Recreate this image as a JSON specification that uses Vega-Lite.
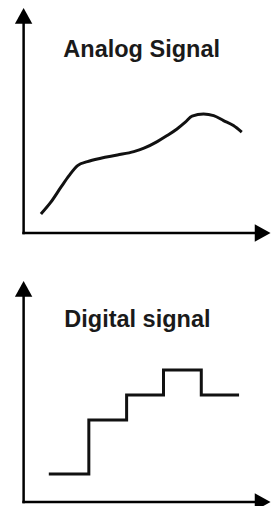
{
  "$schema": "https://vega.github.io/schema/vega-lite/v6.json",
  "background": "#ffffff",
  "padding": 0,
  "spacing": 0,
  "config": {"view": {"stroke": null}},
  "datasets": {
    "analog": [
      {"t": 0.77, "v": 0.95}, {"t": 1.21, "v": 1.54}, {"t": 1.66, "v": 2.29}, {"t": 2.02, "v": 2.87},
      {"t": 2.40, "v": 3.37}, {"t": 2.84, "v": 3.57}, {"t": 3.43, "v": 3.74}, {"t": 4.17, "v": 3.90},
      {"t": 4.90, "v": 4.07}, {"t": 5.35, "v": 4.24}, {"t": 5.94, "v": 4.57}, {"t": 6.38, "v": 4.87},
      {"t": 6.82, "v": 5.20}, {"t": 7.19, "v": 5.54}, {"t": 7.49, "v": 5.84}, {"t": 8.00, "v": 5.95},
      {"t": 8.45, "v": 5.87}, {"t": 8.89, "v": 5.62}, {"t": 9.33, "v": 5.37}, {"t": 9.70, "v": 5.04}
    ],
    "digital": [
      {"t": 1.12, "v": 1.4}, {"t": 2.9, "v": 4.1}, {"t": 4.58, "v": 5.35}, {"t": 6.22, "v": 6.6},
      {"t": 7.9, "v": 5.35}, {"t": 9.58, "v": 5.35}
    ],
    "axesTop": [
      {"x": 0, "y": 0, "x2": 0, "y2": 10.7},
      {"x": 0, "y": 0, "x2": 10.5, "y2": 0}
    ],
    "upTop": [{"x": 0, "y": 11.25}],
    "rightTop": [{"x": 10.98, "y": 0}],
    "axesBot": [
      {"x": 0, "y": 0, "x2": 0, "y2": 10.55},
      {"x": 0, "y": 0, "x2": 10.5, "y2": 0}
    ],
    "upBot": [{"x": 0, "y": 11.05}],
    "rightBot": [{"x": 10.98, "y": 0}],
    "titleTop": [{"x": 5.25, "y": 8.79, "label": "Analog Signal"}],
    "titleBot": [{"x": 5.06, "y": 8.74, "label": "Digital signal"}]
  },
  "resolve": {"scale": {"x": "independent", "y": "independent"}},
  "vconcat": [
    {
      "width": 271,
      "height": 250,
      "layer": [
        {
          "data": {"name": "axesTop"},
          "mark": {"type": "rule", "color": "#000000", "strokeWidth": 2.5, "strokeCap": "square"},
          "encoding": {
            "x": {"field": "x", "type": "quantitative", "scale": {"domain": [-1.05, 11], "nice": false, "zero": false}, "axis": null},
            "y": {"field": "y", "type": "quantitative", "scale": {"domain": [-0.85, 11.65], "nice": false, "zero": false}, "axis": null},
            "x2": {"field": "x2"},
            "y2": {"field": "y2"}
          }
        },
        {
          "data": {"name": "upTop"},
          "mark": {"type": "point", "filled": true, "color": "#000000", "opacity": 1, "size": 1000, "shape": "M0,0L0.55,1L-0.55,1Z"},
          "encoding": {
            "x": {"field": "x", "type": "quantitative"},
            "y": {"field": "y", "type": "quantitative"}
          }
        },
        {
          "data": {"name": "rightTop"},
          "mark": {"type": "point", "filled": true, "color": "#000000", "opacity": 1, "size": 1000, "shape": "M0,0L-1,-0.55L-1,0.55Z"},
          "encoding": {
            "x": {"field": "x", "type": "quantitative"},
            "y": {"field": "y", "type": "quantitative"}
          }
        },
        {
          "data": {"name": "analog"},
          "mark": {"type": "line", "color": "#111111", "strokeWidth": 3, "interpolate": "monotone"},
          "encoding": {
            "x": {"field": "t", "type": "quantitative"},
            "y": {"field": "v", "type": "quantitative"}
          }
        },
        {
          "data": {"name": "titleTop"},
          "mark": {"type": "text", "font": "Liberation Sans", "fontWeight": "bold", "fontSize": 23.5, "color": "#1a1a1a", "align": "center", "baseline": "alphabetic"},
          "encoding": {
            "x": {"field": "x", "type": "quantitative"},
            "y": {"field": "y", "type": "quantitative"},
            "text": {"field": "label"}
          }
        }
      ]
    },
    {
      "width": 271,
      "height": 256,
      "layer": [
        {
          "data": {"name": "axesBot"},
          "mark": {"type": "rule", "color": "#000000", "strokeWidth": 2.5, "strokeCap": "square"},
          "encoding": {
            "x": {"field": "x", "type": "quantitative", "scale": {"domain": [-1.05, 11], "nice": false, "zero": false}, "axis": null},
            "y": {"field": "y", "type": "quantitative", "scale": {"domain": [-0.2, 12.6], "nice": false, "zero": false}, "axis": null},
            "x2": {"field": "x2"},
            "y2": {"field": "y2"}
          }
        },
        {
          "data": {"name": "upBot"},
          "mark": {"type": "point", "filled": true, "color": "#000000", "opacity": 1, "size": 1000, "shape": "M0,0L0.55,1L-0.55,1Z"},
          "encoding": {
            "x": {"field": "x", "type": "quantitative"},
            "y": {"field": "y", "type": "quantitative"}
          }
        },
        {
          "data": {"name": "rightBot"},
          "mark": {"type": "point", "filled": true, "color": "#000000", "opacity": 1, "size": 1000, "shape": "M0,0L-1,-0.55L-1,0.55Z"},
          "encoding": {
            "x": {"field": "x", "type": "quantitative"},
            "y": {"field": "y", "type": "quantitative"}
          }
        },
        {
          "data": {"name": "digital"},
          "mark": {"type": "line", "color": "#111111", "strokeWidth": 3, "interpolate": "step-after"},
          "encoding": {
            "x": {"field": "t", "type": "quantitative"},
            "y": {"field": "v", "type": "quantitative"}
          }
        },
        {
          "data": {"name": "titleBot"},
          "mark": {"type": "text", "font": "Liberation Sans", "fontWeight": "bold", "fontSize": 23.5, "color": "#1a1a1a", "align": "center", "baseline": "alphabetic"},
          "encoding": {
            "x": {"field": "x", "type": "quantitative"},
            "y": {"field": "y", "type": "quantitative"},
            "text": {"field": "label"}
          }
        }
      ]
    }
  ]
}
